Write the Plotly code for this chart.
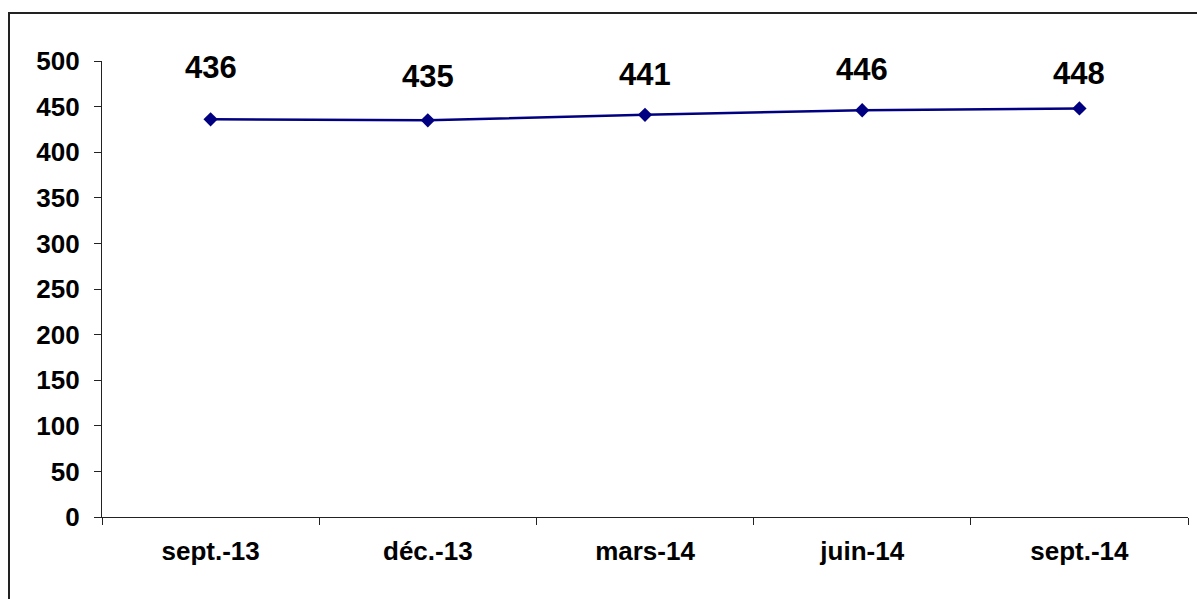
import plotly.graph_objects as go

categories = ["sept.-13", "déc.-13", "mars-14", "juin-14", "sept.-14"]
values = [436, 435, 441, 446, 448]
y_ticks = [0, 50, 100, 150, 200, 250, 300, 350, 400, 450, 500]

# label offsets above points (pixels), style only
label_shift = [52, 44, 40, 41, 35]

FONT = "Arial, 'Liberation Sans', sans-serif"

fig = go.Figure()
fig.add_trace(go.Scatter(
    x=categories, y=values, mode="lines+markers",
    line=dict(color="#000080", width=2.5),
    marker=dict(symbol="diamond", size=11, color="#000080"),
    showlegend=False, hoverinfo="skip",
))

for c, v, s in zip(categories, values, label_shift):
    fig.add_annotation(x=c, y=v, text=str(v), showarrow=False,
                       yshift=s, yanchor="middle", xanchor="center",
                       font=dict(family=FONT, size=31, color="black", weight="bold"))

W, H = 1197, 599
L, R, T, B = 102, 9, 61, 82
pw, ph = W - L - R, H - T - B
fig.add_shape(type="rect", xref="paper", yref="paper",
              x0=(9 - L) / pw, x1=1.2, y0=-0.5, y1=(H - B - 13) / ph,
              line=dict(color="#222222", width=2), fillcolor="rgba(0,0,0,0)", layer="below")

fig.update_layout(
    width=W, height=H,
    margin=dict(l=L, r=R, t=T, b=B, pad=0),
    paper_bgcolor="white", plot_bgcolor="white",
    font=dict(family=FONT, color="black"),
)
fig.update_xaxes(
    type="category", range=[-0.5, 4.5], showgrid=False, zeroline=False,
    showline=True, linecolor="#222222", linewidth=1.3,
    ticks="outside", tickson="boundaries", ticklen=7, tickcolor="#222222", tickwidth=1.3,
    tickfont=dict(family=FONT, size=26, color="black", weight="bold"),
    ticklabelstandoff=11,
)
fig.update_yaxes(
    range=[0, 500], tickvals=y_ticks, ticktext=[str(t) for t in y_ticks],
    showgrid=False, zeroline=False,
    showline=True, linecolor="#222222", linewidth=1.3,
    ticks="outside", ticklen=7, tickcolor="#222222", tickwidth=1.3,
    tickfont=dict(family=FONT, size=26, color="black", weight="bold"),
    ticklabelstandoff=9,
)

fig.write_html("out.html", config={"displayModeBar": False},
               post_script="document.body.style.margin='0';document.body.style.overflow='hidden';")
